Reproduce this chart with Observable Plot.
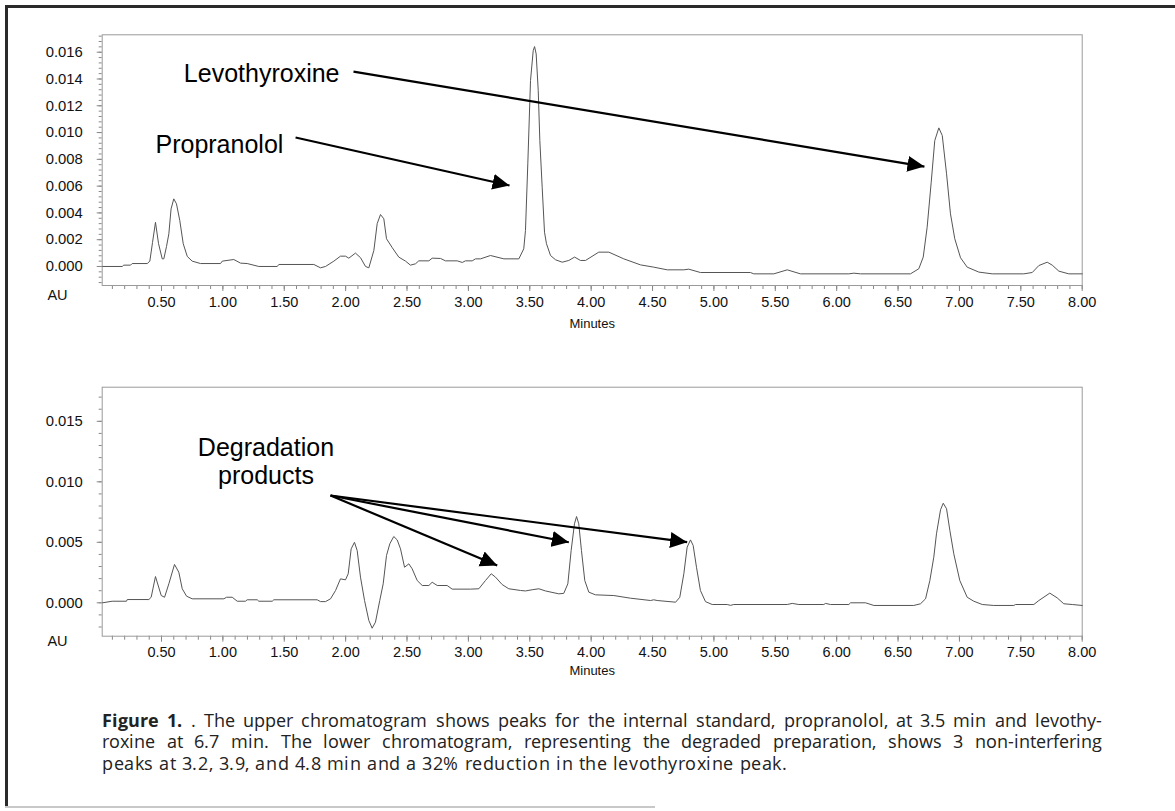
<!DOCTYPE html>
<html>
<head>
<meta charset="utf-8">
<script src="https://cdn.jsdelivr.net/npm/d3@7"></script>
<script src="https://cdn.jsdelivr.net/npm/@observablehq/plot@0.6"></script>
<style>
  @font-face { font-family: "CapSans"; src: local("Open Sans"), local("OpenSans-Regular"), local("Open Sans Regular"); font-weight: 400; ascent-override: 82%; descent-override: 22%; line-gap-override: 0%; }
  @font-face { font-family: "CapSans"; src: local("Open Sans Bold"), local("OpenSans-Bold"); font-weight: 700; ascent-override: 82%; descent-override: 22%; line-gap-override: 0%; }
  body { margin: 0; background: #fff; }
  #page { position: relative; width: 1175px; height: 811px; overflow: hidden; background: #fff; }
  .bt { position: absolute; left: 5px; top: 5px; width: 1170px; height: 3px; background: #2a2a2a; }
  .bl { position: absolute; left: 5px; top: 5px; width: 3px; height: 803px; background: #2a2a2a; }
  .bb { position: absolute; left: 5px; top: 806px; width: 650px; height: 2px; background: #c8c8c8; }
  #upper, #lower { position: absolute; left: 0; }
  #upper { top: 0; }
  #lower { top: 340px; }
  #caption { position: absolute; left: 102px; top: 710.5px; width: 1000px; font-family: "CapSans", "Open Sans", "Noto Sans", sans-serif; font-size: 18.3px; line-height: 21.5px; color: #222; }
  #caption div { white-space: nowrap; }
  #caption .j { text-align: justify; text-align-last: justify; }
  #caption .last { letter-spacing: 0.55px; }
</style>
</head>
<body>
<div id="page">
  <div class="bt"></div><div class="bl"></div><div class="bb"></div>
  <div id="upper"></div>
  <div id="lower"></div>
  <div id="caption">
    <div class="j"><b>Figure 1.</b> . The upper chromatogram shows peaks for the internal standard, propranolol, at 3.5 min and levothy-</div>
    <div class="j">roxine at 6.7 min. The lower chromatogram, representing the degraded preparation, shows 3 non-interfering</div>
    <div class="last">peaks at 3.2, 3.9, and 4.8 min and a 32% reduction in the levothyroxine peak.</div>
  </div>
</div>
<script>
// ---------- DATA ----------
// Upper chromatogram: [minutes, AU]
const upperTrace = [
  [0.02,0],[0.18,0],[0.193,0.0001],[0.248,0.0001],[0.261,0.00022],[0.384,0.00022],[0.405,0.0004],[0.427,0.0018],
  [0.451,0.0033],[0.476,0.0017],[0.506,0.00057],[0.519,0.00057],[0.541,0.0015],[0.560,0.00244],[0.578,0.0043],
  [0.600,0.00505],[0.622,0.00468],[0.649,0.00343],[0.677,0.0017],[0.710,0.00075],[0.750,0.0004],[0.818,0.00022],
  [0.981,0.00022],[0.995,0.0004],[1.089,0.00052],[1.144,0.00025],[1.198,0.00022],[1.293,0],[1.443,0],[1.456,0.00015],
  [1.741,0.00015],[1.795,-0.0001],[1.836,0],[1.904,0.0004],[1.958,0.00077],[1.999,0.00077],[2.026,0.00062],
  [2.080,0.001],[2.121,0.00066],[2.162,0],[2.189,-0.0001],[2.230,0.0012],[2.257,0.0032],[2.284,0.00388],
  [2.311,0.00356],[2.333,0.00207],[2.380,0.0014],[2.433,0.0007],[2.488,0.0004],[2.528,0.0001],[2.569,0.0002],
  [2.596,0.00042],[2.678,0.00042],[2.705,0.00062],[2.773,0.0006],[2.813,0.00042],[2.909,0.00042],[2.950,0.0003],
  [2.976,0.00042],[3.031,0.00042],[3.058,0.00057],[3.099,0.00057],[3.180,0.00082],[3.289,0.00057],[3.411,0.00057],
  [3.451,0.00132],[3.465,0.00269],[3.484,0.00766],[3.506,0.01388],[3.528,0.01612],[3.539,0.01642],[3.552,0.01587],
  [3.569,0.01313],[3.582,0.0094],[3.601,0.00592],[3.620,0.00256],[3.636,0.0017],[3.669,0.00082],
  [3.710,0.0005],[3.764,0.00032],[3.818,0.00045],[3.865,0.0007],[3.913,0.00045],[3.954,0.00045],[4.062,0.00107],
  [4.144,0.00107],[4.266,0.00057],[4.402,0.00012],[4.510,-0.00005],[4.620,-0.00025],[4.755,-0.00025],[4.795,-0.0002],
  [4.890,-0.00045],[5.297,-0.00045],[5.325,-0.00055],[5.488,-0.00055],[5.597,-0.00025],[5.705,-0.00055],[6.099,-0.00055],
  [6.140,-0.0005],[6.194,-0.00055],[6.601,-0.00055],[6.669,-0.00017],[6.705,0.0007],[6.737,0.00293],[6.770,0.00629],
  [6.799,0.0094],[6.832,0.01035],[6.860,0.00978],[6.895,0.00692],[6.927,0.00393],[6.962,0.00207],[7.009,0.00065],
  [7.063,-0.00005],[7.158,-0.00042],[7.267,-0.00055],[7.524,-0.00055],[7.593,-0.00045],[7.647,0.00007],[7.715,0.00032],
  [7.756,0.0001],[7.810,-0.00035],[7.891,-0.00055],[8.0,-0.00055]
];

// Lower chromatogram (degraded preparation): [minutes, AU]
const lowerTrace = [
  [0.02,0],[0.098,0.00013],[0.215,0.00013],[0.221,0.00027],[0.397,0.00027],[0.416,0.00046],[0.451,0.00217],
  [0.498,0.0006],[0.525,0.00046],[0.560,0.00157],[0.606,0.00317],[0.641,0.00253],[0.669,0.00116],[0.704,0.00055],
  [0.750,0.00033],[1.008,0.00033],[1.030,0.00046],[1.076,0.00046],[1.117,0.00013],[1.184,0.00013],[1.198,0.00025],
  [1.280,0.00025],[1.293,0.00013],[1.402,0.00013],[1.415,0.00025],[1.768,0.00025],[1.795,0.0001],[1.836,0.0001],
  [1.877,0.00033],[1.918,0.00102],[1.958,0.00198],[1.999,0.0019],[2.021,0.0024],[2.045,0.00446],[2.072,0.005],
  [2.094,0.00432],[2.121,0.00212],[2.154,0.00019],[2.189,-0.00146],[2.216,-0.0021],[2.243,-0.0016],[2.278,0.00019],
  [2.306,0.00157],[2.333,0.00391],[2.360,0.00488],[2.392,0.00548],[2.420,0.0052],[2.447,0.00446],[2.480,0.00294],
  [2.515,0.00322],[2.542,0.00281],[2.583,0.00184],[2.624,0.00143],[2.678,0.00143],[2.705,0.0017],[2.746,0.00143],
  [2.827,0.00143],[2.868,0.00113],[3.017,0.00113],[3.085,0.00116],[3.139,0.00184],[3.186,0.0024],[3.221,0.00212],
  [3.275,0.00151],[3.329,0.00116],[3.424,0.00102],[3.465,0.00098],[3.520,0.00108],[3.574,0.00116],[3.628,0.00098],
  [3.737,0.00074],[3.777,0.00078],[3.810,0.00157],[3.837,0.00432],[3.864,0.00653],[3.881,0.00713],[3.899,0.00653],
  [3.921,0.00432],[3.948,0.00184],[3.981,0.00088],[4.035,0.00066],[4.185,0.0006],[4.321,0.00038],[4.484,0.00019],
  [4.510,0.00025],[4.538,0.00019],[4.688,0.00005],[4.722,0.00046],[4.755,0.0024],[4.782,0.0046],[4.809,0.0052],
  [4.831,0.00474],[4.858,0.00294],[4.890,0.00102],[4.931,0.0001],[4.986,-0.00014],[5.108,-0.00014],[5.135,-0.00021],
  [5.162,-0.00014],[5.597,-0.00014],[5.638,-0.00005],[5.692,-0.00014],[5.895,-0.00014],[5.909,-0.00005],[5.950,-0.00014],
  [6.099,-0.00014],[6.113,0],[6.235,0],[6.303,-0.00022],[6.628,-0.00022],[6.683,-0.00008],[6.724,0.00033],
  [6.759,0.00184],[6.791,0.00377],[6.813,0.0057],[6.846,0.00769],[6.868,0.00823],[6.895,0.00777],[6.922,0.00598],
  [6.954,0.00405],[7.003,0.00184],[7.063,0.00046],[7.117,0.00013],[7.186,-0.00014],[7.280,-0.00022],[7.443,-0.00022],
  [7.457,-0.00014],[7.606,-0.00014],[7.647,0.00019],[7.736,0.0008],[7.796,0.00041],[7.850,-0.00008],[7.919,-0.00014],
  [8.0,-0.00022]
];

// Tick labels
const xMajorTicks = [0.5, 1, 1.5, 2, 2.5, 3, 3.5, 4, 4.5, 5, 5.5, 6, 6.5, 7, 7.5, 8];
const upperYTicks = [0, 0.002, 0.004, 0.006, 0.008, 0.010, 0.012, 0.014, 0.016];
const lowerYTicks = [0, 0.005, 0.010, 0.015];

// Annotations (data coordinates)
const upperLabels = [
  {x: 0.682, y: 0.01443, text: "Levothyroxine"},
  {x: 0.451, y: 0.00916, text: "Propranolol"}
];
const upperArrows = [
  {x1: 2.064, y1: 0.01455, x2: 6.715, y2: 0.00746},
  {x1: 1.592, y1: 0.00963, x2: 3.335, y2: 0.00605}
];
const lowerLabels = [
  {x: 1.351, y: 0.01169, text: "Degradation\nproducts"}
];
const lowerArrows = [
  {x1: 1.877, y1: 0.008868, x2: 3.235, y2: 0.003083},
  {x1: 1.877, y1: 0.008868, x2: 3.818, y2: 0.005008},
  {x1: 1.877, y1: 0.008868, x2: 4.782, y2: 0.005008}
];

// ---------- CHART ----------
const xMinorTicks = d3.range(1, 81).map(i => i / 10);
const upperYMinor = d3.range(-3, 44).map(i => i * 0.0004);
const lowerYMinor = d3.range(-2, 18).map(i => i * 0.001);
const FONT = "'Liberation Sans', Arial, Helvetica, sans-serif";

function fillArrowheads(svg) {
  svg.querySelectorAll("marker").forEach(m => {
    m.setAttribute("viewBox", "-17 -8.5 17 17");
    m.setAttribute("markerUnits", "userSpaceOnUse");
    m.setAttribute("markerWidth", "17");
    m.setAttribute("markerHeight", "17");
    m.setAttribute("refX", "0");
    m.setAttribute("refY", "0");
    m.setAttribute("fill", "#000");
    m.setAttribute("stroke", "none");
    while (m.firstChild) m.removeChild(m.firstChild);
    const p = document.createElementNS("http://www.w3.org/2000/svg", "path");
    p.setAttribute("d", "M-17,-8L0,0L-17,8Z");
    m.appendChild(p);
  });
}

function chromatogram({trace, yDomain, yTicks, yMinor, labels, arrows, marginTop, marginBottom, auDy, minutesDy}) {
  const svg = Plot.plot({
    width: 1175,
    height: 340,
    marginLeft: 101.7,
    marginRight: 93.3,
    marginTop,
    marginBottom,
    x: {domain: [0.017, 8], axis: null},
    y: {domain: yDomain, axis: null},
    style: {fontFamily: FONT, background: "transparent", color: "#111"},
    marks: [
      Plot.axisX(xMinorTicks, {tickSize: 4, tickFormat: () => "", stroke: "#888", label: null}),
      Plot.axisX(xMajorTicks, {tickSize: 6, tickPadding: 5, tickFormat: d3.format(".2f"), fontSize: 14.5, stroke: "#888", fill: "#111", label: null}),
      Plot.axisY(yMinor, {tickSize: 3, tickFormat: () => "", stroke: "#888", label: null}),
      Plot.axisY(yTicks, {tickSize: 5, tickPadding: 14.5, tickFormat: d3.format(".3f"), fontSize: 14.8, stroke: "#888", fill: "#111", label: null}),
      Plot.frame({stroke: "#9a9a9a"}),
      Plot.line(trace, {x: d => d[0], y: d => d[1], stroke: "#555", strokeWidth: 1}),
      Plot.link(arrows, {x1: "x1", y1: "y1", x2: "x2", y2: "y2", stroke: "#000", strokeWidth: 2.2, markerEnd: "arrow"}),
      Plot.text(labels, {x: "x", y: "y", text: "text", fontSize: 25, fill: "#000",
        textAnchor: labels.length > 1 ? "start" : "middle", lineAnchor: "middle", lineHeight: 1.12}),
      Plot.text(["AU"], {frameAnchor: "bottom-left", dx: -44.7, dy: auDy, fontSize: 14.5, fill: "#111", textAnchor: "middle", lineAnchor: "middle"}),
      Plot.text(["Minutes"], {frameAnchor: "bottom", dy: minutesDy, fontSize: 13, fill: "#111", lineAnchor: "middle"})
    ]
  });
  fillArrowheads(svg);
  return svg;
}

document.getElementById("upper").appendChild(chromatogram({
  trace: upperTrace,
  yDomain: [-0.00142, 0.0173],
  yTicks: upperYTicks,
  yMinor: upperYMinor,
  labels: upperLabels,
  arrows: upperArrows,
  marginTop: 34.3,
  marginBottom: 55,
  auDy: 10,
  minutesDy: 38
}));

document.getElementById("lower").appendChild(chromatogram({
  trace: lowerTrace,
  yDomain: [-0.00276, 0.01782],
  yTicks: lowerYTicks,
  yMinor: lowerYMinor,
  labels: lowerLabels,
  arrows: lowerArrows,
  marginTop: 46.7,
  marginBottom: 44.3,
  auDy: 5,
  minutesDy: 35
}));
</script>
</body>
</html>
